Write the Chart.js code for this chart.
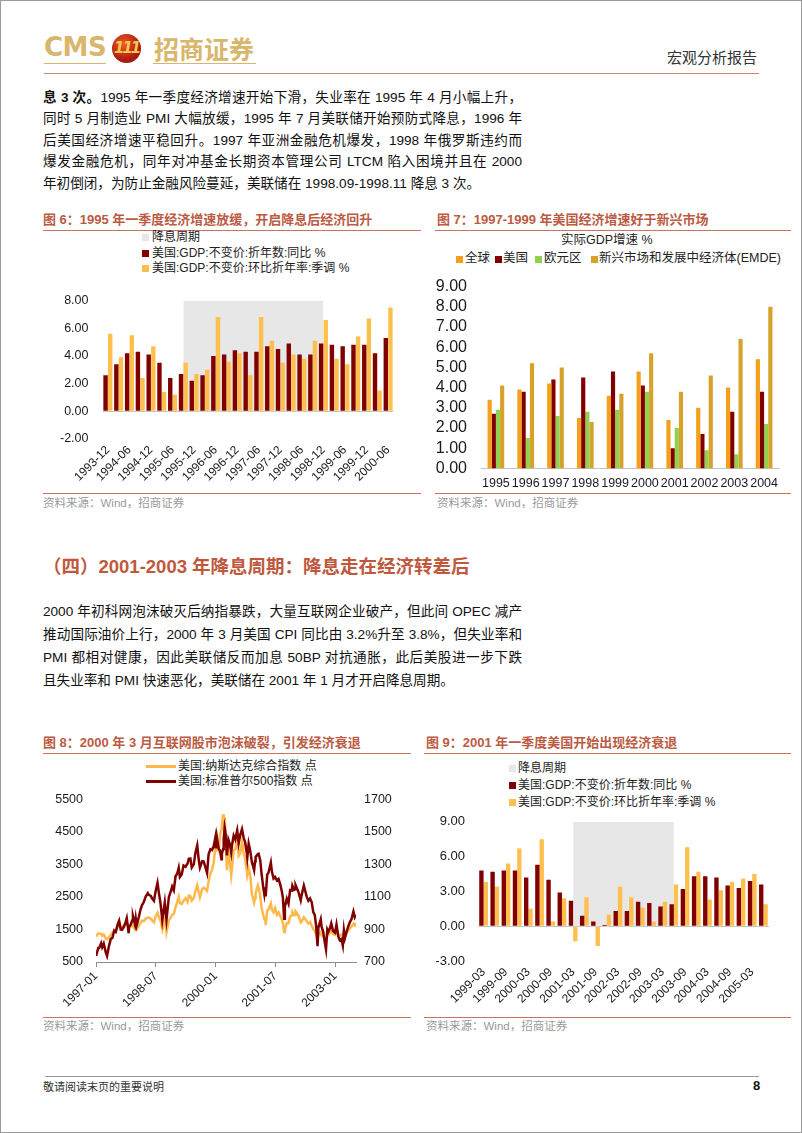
<!DOCTYPE html>
<html lang="zh-CN">
<head>
<meta charset="utf-8">
<script src="https://cdn.jsdelivr.net/npm/chart.js@4/dist/chart.umd.min.js"></script>
<style>
  body { margin: 0; background: #fff; }
  #page { position: relative; width: 802px; height: 1133px; box-sizing: border-box; border: 1px solid #9a9a9a; overflow: hidden;
          font-family: 'Liberation Sans', 'Noto Sans CJK SC', sans-serif; color: #111; }
  .abs { position: absolute; white-space: nowrap; }
  .line { position: absolute; left: 42px; width: 479px; font-size: 13.6px; line-height: 20px; text-align: justify; text-align-last: justify; }
  .line.last { text-align: left; text-align-last: left; }
  .figt { position: absolute; font-size: 13px; line-height: 16px; font-weight: 700; color: #BC5B43; white-space: nowrap; }
  .rule { position: absolute; height: 1px; background: #C8735E; }
  .src { position: absolute; font-size: 11.5px; line-height: 16px; color: #9a9a9a; white-space: nowrap; }
  .lg { position: absolute; font-size: 12px; line-height: 15px; white-space: nowrap; color: #222; }
  .mk { position: absolute; width: 7px; height: 7px; }
  canvas { position: absolute; }
</style>
</head>
<body>
<div id="page">

  <!-- header -->
  <div class="abs" style="left:43px;top:30px;font:700 26px/32px 'DejaVu Sans';color:#D8B66C;letter-spacing:-0.5px">CMS</div>
  <div class="abs" style="left:111px;top:33px;width:29px;height:29px;border-radius:50%;background:radial-gradient(circle at 40% 35%,#F05a2a,#B01E10 60%,#7a1008);"></div>
  <div class="abs" style="left:113px;top:37px;width:25px;text-align:center;font:italic 700 15px/20px 'DejaVu Sans';color:#F2C94C;letter-spacing:-2px">111</div>
  <div class="abs" style="left:153px;top:31px;font:700 25px/32px 'Noto Sans CJK SC';color:#D8B66C">招商证券</div>
  <div class="abs" style="left:43px;top:62px;width:62px;height:1px;background:#D8B66C"></div>
  <div class="abs" style="left:152px;top:62px;width:103px;height:1px;background:#D8B66C"></div>
  <div class="abs" style="left:43px;top:72px;width:715px;height:1px;background:#C98572"></div>
  <div class="abs" style="left:666px;top:47px;font-size:15px;line-height:20px;color:#333">宏观分析报告</div>

  <!-- paragraph 1 -->
  <div class="line" style="top:87px"><b>息 3 次。</b>1995 年一季度经济增速开始下滑，失业率在 1995 年 4 月小幅上升，</div>
  <div class="line" style="top:108px">同时 5 月制造业 PMI 大幅放缓，1995 年 7 月美联储开始预防式降息，1996 年</div>
  <div class="line" style="top:130px">后美国经济增速平稳回升。1997 年亚洲金融危机爆发，1998 年俄罗斯违约而</div>
  <div class="line" style="top:151px">爆发金融危机，同年对冲基金长期资本管理公司 LTCM 陷入困境并且在 2000</div>
  <div class="line last" style="top:173px">年初倒闭，为防止金融风险蔓延，美联储在 1998.09-1998.11 降息 3 次。</div>

  <!-- figure 6 / 7 frames -->
  <div class="figt" style="left:42px;top:211px">图 6：1995 年一季度经济增速放缓，开启降息后经济回升</div>
  <div class="rule" style="left:42px;top:229px;width:378px"></div>
  <div class="figt" style="left:436px;top:211px">图 7：1997-1999 年美国经济增速好于新兴市场</div>
  <div class="rule" style="left:434px;top:229px;width:356px"></div>

  <div class="mk" style="left:141px;top:233px;background:#E7E7E7"></div>
  <div class="lg" style="left:151px;top:229px">降息周期</div>
  <div class="mk" style="left:141px;top:249px;background:#800000"></div>
  <div class="lg" style="left:151px;top:245px">美国:GDP:不变价:折年数:同比 %</div>
  <div class="mk" style="left:141px;top:264px;background:#FFBF4D"></div>
  <div class="lg" style="left:151px;top:260px">美国:GDP:不变价:环比折年率:季调 %</div>

  <div class="lg" style="left:560px;top:232px;font-size:12.5px">实际GDP增速 %</div>
  <div class="mk" style="left:455px;top:255px;background:#F5A01A"></div>
  <div class="lg" style="left:464px;top:250px;font-size:12.5px">全球</div>
  <div class="mk" style="left:494px;top:255px;background:#800000"></div>
  <div class="lg" style="left:502px;top:250px;font-size:12.5px">美国</div>
  <div class="mk" style="left:534px;top:255px;background:#92D050"></div>
  <div class="lg" style="left:543px;top:250px;font-size:12.5px">欧元区</div>
  <div class="mk" style="left:590px;top:255px;background:#D6A22A"></div>
  <div class="lg" style="left:598px;top:250px;font-size:12.5px">新兴市场和发展中经济体(EMDE)</div>

  <canvas id="gdp1995" width="378" height="212" style="left:42px;top:278px"></canvas>
  <canvas id="gdpWorld" width="358" height="229" style="left:432px;top:262px"></canvas>

  <div class="rule" style="left:42px;top:492px;width:378px"></div>
  <div class="src" style="left:42px;top:494px">资料来源：Wind，招商证券</div>
  <div class="rule" style="left:434px;top:492px;width:356px"></div>
  <div class="src" style="left:436px;top:494px">资料来源：Wind，招商证券</div>

  <!-- section 4 -->
  <div class="abs" style="left:42px;top:554px;font-size:18.5px;line-height:24px;font-weight:700;color:#C0583E">（四）2001-2003 年降息周期：降息走在经济转差后</div>

  <div class="line" style="top:601px">2000 年初科网泡沫破灭后纳指暴跌，大量互联网企业破产，但此间 OPEC 减产</div>
  <div class="line" style="top:624px">推动国际油价上行，2000 年 3 月美国 CPI 同比由 3.2%升至 3.8%，但失业率和</div>
  <div class="line" style="top:647px">PMI 都相对健康，因此美联储反而加息 50BP 对抗通胀，此后美股进一步下跌</div>
  <div class="line last" style="top:670px">且失业率和 PMI 快速恶化，美联储在 2001 年 1 月才开启降息周期。</div>

  <!-- figure 8 / 9 frames -->
  <div class="figt" style="left:42px;top:734px">图 8：2000 年 3 月互联网股市泡沫破裂，引发经济衰退</div>
  <div class="rule" style="left:42px;top:752px;width:368px"></div>
  <div class="figt" style="left:425px;top:734px">图 9：2001 年一季度美国开始出现经济衰退</div>
  <div class="rule" style="left:423px;top:752px;width:367px"></div>

  <div class="abs" style="left:145px;top:764px;width:30px;height:3px;background:#FFB84A"></div>
  <div class="lg" style="left:177px;top:758px">美国:纳斯达克综合指数 点</div>
  <div class="abs" style="left:145px;top:779px;width:30px;height:3px;background:#800000"></div>
  <div class="lg" style="left:177px;top:773px">美国:标准普尔500指数 点</div>

  <div class="mk" style="left:508px;top:764px;background:#E7E7E7"></div>
  <div class="lg" style="left:517px;top:760px">降息周期</div>
  <div class="mk" style="left:508px;top:781px;background:#800000"></div>
  <div class="lg" style="left:517px;top:777px">美国:GDP:不变价:折年数:同比 %</div>
  <div class="mk" style="left:508px;top:798px;background:#FFBF4D"></div>
  <div class="lg" style="left:517px;top:794px">美国:GDP:不变价:环比折年率:季调 %</div>

  <canvas id="stocks" width="368" height="234" style="left:42px;top:778px"></canvas>
  <canvas id="gdp2001" width="365" height="210" style="left:425px;top:800px"></canvas>

  <div class="rule" style="left:42px;top:1016px;width:368px"></div>
  <div class="src" style="left:42px;top:1017px">资料来源：Wind，招商证券</div>
  <div class="rule" style="left:423px;top:1016px;width:367px"></div>
  <div class="src" style="left:425px;top:1017px">资料来源：Wind，招商证券</div>

  <!-- footer -->
  <div class="abs" style="left:44px;top:1075px;width:714px;height:1px;background:#999"></div>
  <div class="abs" style="left:42px;top:1078px;font-size:11px;line-height:16px;color:#333">敬请阅读末页的重要说明</div>
  <div class="abs" style="left:752px;top:1077px;font-size:13px;line-height:16px;font-weight:700">8</div>
</div>

<script>
// figure 6 : quarterly US GDP 1993-12 .. 2000-06
var q95Labels = ['1993-12', '1994-03', '1994-06', '1994-09', '1994-12', '1995-03', '1995-06', '1995-09', '1995-12',
  '1996-03', '1996-06', '1996-09', '1996-12', '1997-03', '1997-06', '1997-09', '1997-12', '1998-03', '1998-06',
  '1998-09', '1998-12', '1999-03', '1999-06', '1999-09', '1999-12', '2000-03', '2000-06'];
var q95Yoy = [2.6, 3.4, 4.2, 4.3, 4.1, 3.5, 2.4, 2.7, 2.2, 2.6, 4.0, 4.1, 4.4, 4.3, 4.3, 4.7, 4.5, 4.9, 4.1, 4.1, 4.9, 4.8, 4.7, 4.8, 4.8, 4.2, 5.3];
var q95Qoq = [5.6, 3.9, 5.5, 2.4, 4.7, 1.4, 1.2, 3.5, 2.7, 3.0, 6.8, 3.6, 4.2, 2.6, 6.8, 5.1, 3.5, 4.1, 3.8, 5.1, 6.6, 3.8, 3.4, 5.4, 6.7, 1.5, 7.5];
var q95Cut = ['1995-09', '1998-12'];

// figure 7 : real GDP growth by region
var gdpYears = ['1995', '1996', '1997', '1998', '1999', '2000', '2001', '2002', '2003', '2004'];
var worldGdp = [3.4, 3.9, 4.2, 2.5, 3.6, 4.8, 2.4, 3.0, 4.0, 5.4];
var usGdp = [2.7, 3.8, 4.4, 4.5, 4.8, 4.1, 1.0, 1.7, 2.8, 3.8];
var euroGdp = [2.9, 1.5, 2.6, 2.8, 2.9, 3.8, 2.0, 0.9, 0.7, 2.2];
var emdeGdp = [4.1, 5.2, 5.0, 2.3, 3.7, 5.7, 3.8, 4.6, 6.4, 8.0];

// figure 8 : Nasdaq composite and S&P 500
var indexDates = ['1997-01-02', '1997-01-22', '1997-01-31', '1997-02-18', '1997-02-28', '1997-03-11', '1997-03-31', '1997-04-11',
  '1997-04-30', '1997-05-15', '1997-05-30', '1997-06-16', '1997-06-30', '1997-07-17', '1997-07-31', '1997-08-15', '1997-08-29',
  '1997-09-15', '1997-09-30', '1997-10-09', '1997-10-27', '1997-10-31', '1997-11-14', '1997-11-28', '1997-12-05', '1997-12-24',
  '1997-12-31', '1998-01-09', '1998-01-30', '1998-02-13', '1998-02-27', '1998-03-13', '1998-03-31', '1998-04-20', '1998-04-30',
  '1998-05-15', '1998-05-29', '1998-06-15', '1998-06-30', '1998-07-17', '1998-07-31', '1998-08-14', '1998-08-31', '1998-09-23',
  '1998-09-30', '1998-10-08', '1998-10-30', '1998-11-13', '1998-11-30', '1998-12-14', '1998-12-31', '1999-01-15', '1999-01-29',
  '1999-02-09', '1999-02-26', '1999-03-12', '1999-03-31', '1999-04-19', '1999-04-30', '1999-05-14', '1999-05-27', '1999-06-15',
  '1999-06-30', '1999-07-16', '1999-07-30', '1999-08-10', '1999-08-31', '1999-09-15', '1999-09-30', '1999-10-15', '1999-10-29',
  '1999-11-15', '1999-11-30', '1999-12-15', '1999-12-31', '2000-01-04', '2000-01-14', '2000-01-31', '2000-02-11', '2000-02-25',
  '2000-02-29', '2000-03-10', '2000-03-15', '2000-03-24', '2000-03-31', '2000-04-14', '2000-04-28', '2000-05-12', '2000-05-23',
  '2000-05-31', '2000-06-15', '2000-06-30', '2000-07-17', '2000-07-31', '2000-08-15', '2000-08-31', '2000-09-15', '2000-09-29',
  '2000-10-13', '2000-10-18', '2000-10-31', '2000-11-15', '2000-11-30', '2000-12-20', '2000-12-29', '2001-01-03', '2001-01-24',
  '2001-01-31', '2001-02-15', '2001-02-28', '2001-03-14', '2001-03-22', '2001-03-30', '2001-04-04', '2001-04-18', '2001-04-30',
  '2001-05-21', '2001-05-31', '2001-06-15', '2001-06-29', '2001-07-16', '2001-07-31', '2001-08-15', '2001-08-31', '2001-09-10',
  '2001-09-21', '2001-09-28', '2001-10-15', '2001-10-31', '2001-11-15', '2001-11-30', '2001-12-05', '2001-12-21', '2001-12-31',
  '2002-01-04', '2002-01-31', '2002-02-21', '2002-02-28', '2002-03-19', '2002-03-28', '2002-04-15', '2002-04-30', '2002-05-15',
  '2002-05-31', '2002-06-14', '2002-06-28', '2002-07-10', '2002-07-23', '2002-07-31', '2002-08-22', '2002-08-30', '2002-09-13',
  '2002-09-30', '2002-10-09', '2002-10-21', '2002-10-31', '2002-11-15', '2002-11-27', '2002-12-13', '2002-12-31', '2003-01-14',
  '2003-01-31', '2003-02-14', '2003-02-28', '2003-03-11', '2003-03-21', '2003-03-31', '2003-04-15', '2003-04-30', '2003-05-15',
  '2003-05-30', '2003-06-17', '2003-06-30', '2003-07-10'];
var nasdaqClose = [1280, 1380, 1379, 1367, 1309, 1348, 1222, 1201, 1261, 1340, 1400, 1448, 1442, 1570, 1594, 1562, 1587,
  1630, 1686, 1745, 1535, 1594, 1600, 1601, 1620, 1511, 1570, 1503, 1619, 1700, 1771, 1754, 1835, 1860, 1868,
  1829, 1779, 1724, 1895, 2015, 1872, 1775, 1499, 1790, 1694, 1419, 1771, 1847, 1950, 1978, 2193, 2348, 2506,
  2310, 2288, 2382, 2461, 2345, 2543, 2528, 2390, 2474, 2686, 2864, 2638, 2490, 2739, 2782, 2746, 2689, 2966,
  3221, 3336, 3571, 4069, 3901, 4064, 3940, 4395, 4590, 4697, 5048, 4583, 4963, 4573, 3321, 3861, 3529, 3164,
  3401, 3940, 3966, 4290, 3767, 3850, 4206, 3835, 3673, 3317, 3171, 3370, 3165, 2598, 2332, 2471, 2617, 2859,
  2773, 2552, 2152, 1923, 1830, 1840, 1638, 2079, 2116, 2306, 2110, 2028, 2161, 1956, 2027, 1919, 1805, 1695,
  1423, 1499, 1696, 1690, 1900, 1931, 2046, 1945, 1950, 2059, 1934, 1716, 1731, 1880, 1845, 1756, 1688, 1730,
  1616, 1505, 1463, 1346, 1229, 1328, 1422, 1315, 1291, 1172, 1114, 1309, 1330, 1411, 1488, 1362, 1336, 1438,
  1321, 1310, 1338, 1271, 1421, 1341, 1391, 1464, 1534, 1596, 1677, 1623, 1700];
var spxClose = [737, 786, 786, 816, 791, 813, 757, 737, 801, 842, 848, 893, 885, 931, 954, 900, 899,
  919, 947, 970, 877, 915, 928, 955, 983, 932, 970, 927, 980, 1021, 1049, 1069, 1102, 1123, 1112,
  1108, 1091, 1077, 1134, 1187, 1121, 1062, 957, 1066, 1017, 960, 1099, 1126, 1164, 1141, 1229, 1243, 1280,
  1223, 1238, 1294, 1286, 1306, 1335, 1337, 1281, 1301, 1373, 1418, 1329, 1281, 1320, 1318, 1283, 1247, 1363,
  1394, 1389, 1414, 1469, 1399, 1465, 1394, 1387, 1333, 1366, 1395, 1458, 1527, 1499, 1356, 1452, 1421, 1373,
  1421, 1478, 1455, 1510, 1431, 1484, 1518, 1466, 1437, 1374, 1342, 1429, 1383, 1315, 1264, 1320, 1347, 1364,
  1366, 1327, 1240, 1150, 1117, 1160, 1103, 1238, 1249, 1312, 1256, 1214, 1224, 1202, 1211, 1179, 1134, 1093,
  966, 1041, 1090, 1060, 1142, 1139, 1170, 1144, 1148, 1173, 1130, 1080, 1107, 1170, 1147, 1102, 1077, 1091,
  1067, 1007, 990, 921, 797, 912, 962, 916, 889, 815, 777, 900, 886, 909, 938, 890, 880, 931,
  856, 834, 841, 800, 895, 848, 885, 917, 946, 964, 1011, 975, 988];
var stockTickLabels = ['1997-01', '1998-07', '2000-01', '2001-07', '2003-01'];

// figure 9 : quarterly US GDP 1999-03 .. 2005-06
var q01Labels = ['1999-03', '1999-06', '1999-09', '1999-12', '2000-03', '2000-06', '2000-09', '2000-12', '2001-03',
  '2001-06', '2001-09', '2001-12', '2002-03', '2002-06', '2002-09', '2002-12', '2003-03', '2003-06', '2003-09',
  '2003-12', '2004-03', '2004-06', '2004-09', '2004-12', '2005-03', '2005-06'];
var q01Yoy = [4.8, 4.7, 4.8, 4.8, 4.2, 5.3, 4.0, 2.9, 2.2, 0.9, 0.4, 0.1, 1.3, 1.3, 2.1, 2.0, 1.7, 1.9, 3.2, 4.3, 4.3, 4.2, 3.5, 3.3, 3.9, 3.6];
var q01Qoq = [3.8, 3.4, 5.4, 6.7, 1.5, 7.5, 0.4, 2.4, -1.3, 2.5, -1.7, 1.0, 3.4, 2.5, 1.6, 0.4, 2.1, 3.6, 6.8, 4.7, 2.3, 3.1, 3.8, 4.1, 4.5, 1.9];
var q01Cut = ['2001-03', '2003-06'];

var INK = '#1a1a1a';
var DARK = '#800000';
var GOLD = '#FFBF4D';
var SHADE = '#E7E7E7';
var ZERO = '#C4C4C4';

Chart.defaults.font.family = "'Liberation Sans', 'Noto Sans CJK SC', sans-serif";
Chart.defaults.color = INK;
Chart.defaults.animation = false;

// band series for the rate-cut period
function cutBand(labels, cut, top) {
  return labels.map(function (l) { return l >= cut[0] && l <= cut[1] ? top : null; });
}

function monthOffset(d) {
  var p = d.split('-').map(Number);
  return (p[0] - 1997) * 12 + (p[1] - 1) + ((p[2] || 1) - 1) / 31;
}

function quarterChart(id, labels, yoy, qoq, cut, y, lay) {
  return new Chart(document.getElementById(id), {
    type: 'bar',
    data: {
      labels: labels,
      datasets: [
        { label: '美国:GDP:不变价:折年数:同比 %', data: yoy, backgroundColor: DARK, order: 1,
          categoryPercentage: lay.cat, barPercentage: lay.bar },
        { label: '美国:GDP:不变价:环比折年率:季调 %', data: qoq, backgroundColor: GOLD, order: 2,
          categoryPercentage: lay.cat, barPercentage: lay.bar },
        { type: 'line', label: '降息周期', data: cutBand(labels, cut, y.max), fill: 'origin',
          backgroundColor: SHADE, borderWidth: 0, pointRadius: 0, order: 3 }
      ]
    },
    options: {
      responsive: false,
      layout: { padding: { top: lay.top, right: lay.right, left: 0, bottom: 0 } },
      plugins: { legend: { display: false }, tooltip: { enabled: false } },
      scales: {
        x: {
          grid: { display: false, drawTicks: false },
          border: { display: false },
          ticks: {
            autoSkip: false, minRotation: 45, maxRotation: 45, padding: 4, font: { size: 12 },
            callback: function (v, i) { return i % 2 === 0 ? this.getLabelForValue(v) : ''; }
          },
          afterFit: function (s) { s.height = lay.xh; }
        },
        y: {
          min: y.min, max: y.max,
          ticks: { stepSize: y.step, padding: lay.pad, font: { size: lay.yf }, callback: function (v) { return v.toFixed(2); } },
          grid: { drawTicks: false, color: function (c) { return c.tick && c.tick.value === 0 ? ZERO : 'rgba(0,0,0,0)'; } },
          border: { display: false },
          afterFit: function (s) { s.width = lay.yw; }
        }
      }
    }
  });
}

quarterChart('gdp1995', q95Labels, q95Yoy, q95Qoq, q95Cut, { min: -2, max: 8, step: 2 },
  { top: 10, right: 27.5, xh: 52, yw: 59.5, pad: 14, yf: 12.5, cat: 0.86, bar: 0.95 });

quarterChart('gdp2001', q01Labels, q01Yoy, q01Qoq, q01Cut, { min: -3, max: 9, step: 3 },
  { top: 11, right: 22, xh: 50, yw: 52, pad: 13, yf: 13, cat: 0.78, bar: 1 });

// figure 7
new Chart(document.getElementById('gdpWorld'), {
  type: 'bar',
  data: {
    labels: gdpYears,
    datasets: [
      { label: '全球', data: worldGdp, backgroundColor: '#F5A01A' },
      { label: '美国', data: usGdp, backgroundColor: DARK },
      { label: '欧元区', data: euroGdp, backgroundColor: '#92D050' },
      { label: '新兴市场和发展中经济体(EMDE)', data: emdeGdp, backgroundColor: '#D6A22A' }
    ]
  },
  options: {
    responsive: false,
    datasets: { bar: { categoryPercentage: 0.56, barPercentage: 1 } },
    layout: { padding: { top: 9, right: 12, left: 0, bottom: 0 } },
    plugins: { legend: { display: false }, tooltip: { enabled: false } },
    scales: {
      x: {
        grid: { display: false, drawTicks: false },
        border: { display: true, color: ZERO },
        ticks: { autoSkip: false, maxRotation: 0, padding: 8, font: { size: 12.5 } },
        afterFit: function (s) { s.height = 23.3; }
      },
      y: {
        min: 0, max: 9,
        ticks: { stepSize: 1, padding: 14, font: { size: 16 }, callback: function (v) { return v.toFixed(2); } },
        grid: { display: false, drawTicks: false },
        border: { display: false },
        afterFit: function (s) { s.width = 48; }
      }
    }
  }
});

// figure 8
var stockTicks = stockTickLabels.map(function (l) { return monthOffset(l); });
var nasdaqSeries = indexDates.map(function (d, i) { return { x: monthOffset(d), y: nasdaqClose[i] }; });
var spxSeries = indexDates.map(function (d, i) { return { x: monthOffset(d), y: spxClose[i] }; });

new Chart(document.getElementById('stocks'), {
  type: 'line',
  data: {
    datasets: [
      { label: '美国:标准普尔500指数 点', data: spxSeries, yAxisID: 'yR', borderColor: DARK,
        borderWidth: 2.5, pointRadius: 0, tension: 0, order: 0 },
      { label: '美国:纳斯达克综合指数 点', data: nasdaqSeries, yAxisID: 'yL', borderColor: '#FFB84A',
        borderWidth: 2.5, pointRadius: 0, tension: 0, order: 1 }
    ]
  },
  options: {
    responsive: false,
    layout: { padding: { top: 9, right: 0, left: 0, bottom: 0 } },
    plugins: { legend: { display: false }, tooltip: { enabled: false } },
    scales: {
      x: {
        type: 'linear', min: 0, max: monthOffset(indexDates[indexDates.length - 1]),
        grid: { display: true, drawOnChartArea: false, drawTicks: true, tickLength: 5, color: '#8c8c8c' },
        border: { display: true, color: '#8c8c8c' },
        afterBuildTicks: function (s) { s.ticks = stockTicks.map(function (v) { return { value: v }; }); },
        ticks: { autoSkip: false, minRotation: 45, maxRotation: 45, padding: 2, font: { size: 12 },
          callback: function (v, i) { return stockTickLabels[i]; } },
        afterFit: function (s) { s.height = 51; }
      },
      yL: {
        position: 'left', min: 500, max: 5500,
        ticks: { stepSize: 1000, padding: 13, font: { size: 12.5 }, callback: function (v) { return String(v); } },
        grid: { display: false, drawTicks: false },
        border: { display: false },
        afterFit: function (s) { s.width = 53; }
      },
      yR: {
        position: 'right', min: 700, max: 1700,
        ticks: { stepSize: 200, padding: 8, font: { size: 12.5 }, callback: function (v) { return String(v); } },
        grid: { display: false, drawTicks: false },
        border: { display: false },
        afterFit: function (s) { s.width = 55; }
      }
    }
  }
});
</script>
</body>
</html>
